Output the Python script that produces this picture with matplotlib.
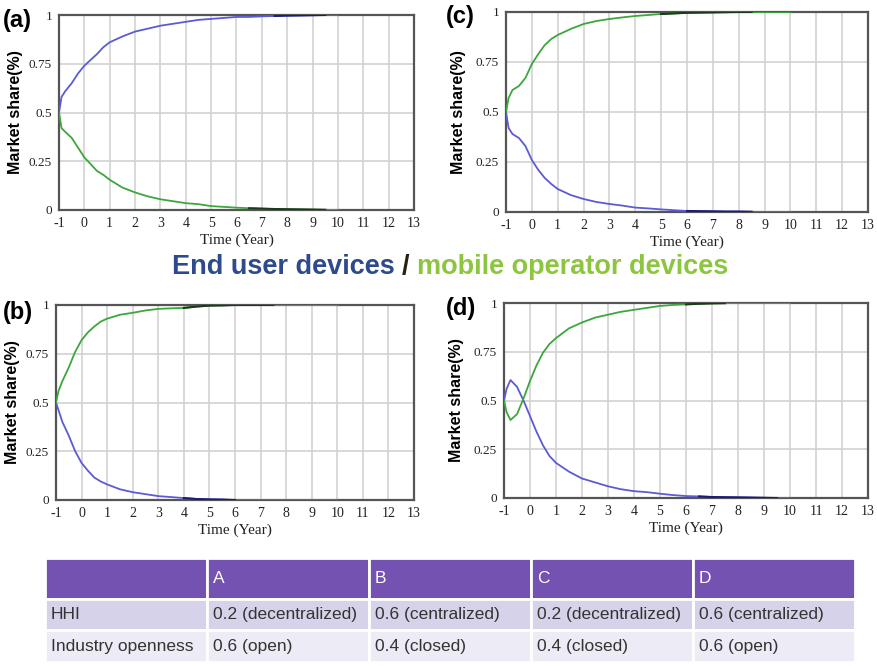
import numpy as np
import matplotlib.pyplot as plt
from matplotlib.patches import Rectangle

plt.rcParams['axes.unicode_minus'] = False

# Time axis shared by all four panels (years)
years = [-1, -0.9, -0.75, -0.5, -0.25, 0, 0.25, 0.5, 0.75, 1, 1.5, 2, 2.5, 3, 3.5,
         4, 4.5, 5, 5.5, 6, 6.5, 7, 7.5, 8, 8.5, 9, 9.5, 10]

# (a) HHI 0.2 / openness 0.6
a_end_user = [0.50, 0.58, 0.61, 0.65, 0.70, 0.74, 0.77, 0.80, 0.835, 0.86, 0.89, 0.915, 0.93, 0.945,
              0.955, 0.965, 0.975, 0.98, 0.985, 0.99, 0.99, 0.993, 0.995, 0.997, 0.998, 0.999, 1.0, 1.0]
a_operator = [0.50, 0.42, 0.40, 0.37, 0.32, 0.27, 0.235, 0.20, 0.18, 0.155, 0.115, 0.09, 0.07, 0.055,
              0.045, 0.035, 0.03, 0.02, 0.016, 0.012, 0.009, 0.007, 0.005, 0.004, 0.003, 0.002, 0.001, 0.0]

# (b) HHI 0.6 / openness 0.4
b_end_user = [0.50, 0.46, 0.40, 0.33, 0.25, 0.19, 0.15, 0.115, 0.095, 0.08, 0.055, 0.04, 0.03, 0.02,
              0.015, 0.01, 0.005, 0.003, 0.002, 0.0, 0.0, 0.0, 0.0, 0.0, 0.0, 0.0, 0.0, 0.0]
b_operator = [0.50, 0.56, 0.61, 0.68, 0.76, 0.82, 0.86, 0.89, 0.915, 0.93, 0.95, 0.96, 0.972, 0.98,
              0.983, 0.985, 0.992, 0.997, 0.998, 1.0, 1.0, 1.0, 1.0, 1.0, 1.0, 1.0, 1.0, 1.0]

# (c) HHI 0.2 / openness 0.4
c_end_user = [0.50, 0.42, 0.39, 0.37, 0.33, 0.26, 0.21, 0.17, 0.14, 0.115, 0.085, 0.065, 0.05, 0.04,
              0.032, 0.022, 0.018, 0.013, 0.009, 0.005, 0.004, 0.003, 0.002, 0.002, 0.001, 0.0, 0.0, 0.0]
c_operator = [0.50, 0.57, 0.61, 0.63, 0.67, 0.74, 0.79, 0.835, 0.865, 0.885, 0.915, 0.94, 0.955, 0.965,
              0.973, 0.98, 0.985, 0.99, 0.993, 0.996, 0.997, 0.998, 0.999, 1.0, 1.0, 1.0, 1.0, 1.0]

# (d) HHI 0.6 / openness 0.6
d_end_user = [0.50, 0.56, 0.605, 0.57, 0.50, 0.42, 0.34, 0.27, 0.215, 0.18, 0.135, 0.10, 0.08, 0.06,
              0.045, 0.035, 0.03, 0.022, 0.015, 0.01, 0.008, 0.005, 0.004, 0.003, 0.002, 0.001, 0.0, 0.0]
d_operator = [0.50, 0.44, 0.40, 0.43, 0.51, 0.60, 0.68, 0.745, 0.79, 0.82, 0.87, 0.90, 0.925, 0.94,
              0.955, 0.965, 0.975, 0.985, 0.99, 0.993, 0.996, 0.998, 0.999, 1.0, 1.0, 1.0, 1.0, 1.0]

# parts of each curve that render darker in the original (year ranges)
dark_spans = {
    'a': ((7.5, 9.5), (6.5, 9.5)),
    'b': ((4.0, 6.0), (4.0, 7.5)),
    'c': ((6.0, 8.5), (5.0, 8.5)),
    'd': ((6.5, 9.5), (6.0, 7.5)),
}

x_ticks = list(range(-1, 14))
y_ticks = [0, 0.25, 0.5, 0.75, 1]
y_tick_labels = ['0', '0.25', '0.5', '0.75', '1']

table_header = ['', 'A', 'B', 'C', 'D']
table_rows = [
    ['HHI', '0.2 (decentralized)', '0.6 (centralized)', '0.2 (decentralized)', '0.6 (centralized)'],
    ['Industry openness', '0.6 (open)', '0.4 (closed)', '0.4 (closed)', '0.6 (open)'],
]

W, H = 878, 666
BLUE = '#5b5bd6'
GREEN = '#3da63d'
DARK_BLUE = '#1c1c78'
DARK_GREEN = '#1b3a1b'


def fig_rect(left, top, right, bottom):
    return [left / W, 1 - bottom / H, (right - left) / W, (bottom - top) / H]


fig = plt.figure(figsize=(W / 100, H / 100), dpi=100)

panels = [
    ('a', (59, 15, 414, 210), a_end_user, a_operator, (3, 21), 16),
    ('c', (506, 12, 868, 212), c_end_user, c_operator, (446, 16), 459),
    ('b', (56, 305, 414, 500), b_end_user, b_operator, (3, 313), 13),
    ('d', (504, 303, 868, 498), d_end_user, d_operator, (446, 309), 457),
]

x = np.array(years)
for key, box, end_user, operator, lab_pos, ylab_x in panels:
    ax = fig.add_axes(fig_rect(*box))
    ax.plot(x, end_user, color=BLUE, lw=1.3, zorder=3)
    ax.plot(x, operator, color=GREEN, lw=1.3, zorder=3)
    (eu0, eu1), (op0, op1) = dark_spans[key]
    m = (x >= eu0) & (x <= eu1)
    ax.plot(x[m], np.array(end_user)[m], color=DARK_BLUE, lw=1.5, zorder=4)
    m = (x >= op0) & (x <= op1)
    ax.plot(x[m], np.array(operator)[m], color=DARK_GREEN, lw=1.5, zorder=4)

    ax.set_xlim(-1, 13)
    ax.set_ylim(0, 1)
    ax.set_xticks(x_ticks)
    ax.set_yticks(y_ticks)
    ax.set_yticklabels(y_tick_labels)
    ax.grid(True, color='#d2d2d2', lw=1.2)
    ax.set_axisbelow(True)
    ax.tick_params(axis='x', length=0, pad=5, labelsize=10, labelcolor='#222222')
    ax.tick_params(axis='y', length=0, pad=5, labelsize=9.5, labelcolor='#222222')
    for lbl in ax.get_xticklabels() + ax.get_yticklabels():
        lbl.set_family('Liberation Serif')
    for s in ax.spines.values():
        s.set_color('#555555')
        s.set_linewidth(1.6)

    left, top, right, bottom = box
    fig.text(lab_pos[0] / W, 1 - lab_pos[1] / H, f'({key})', fontsize=17, fontweight='bold',
             family='Liberation Sans', ha='left', va='center')
    fig.text(ylab_x / W, 1 - (top + bottom) / 2 / H, 'Market share(%)', rotation=90,
             fontsize=11.5, fontweight='bold', family='Liberation Sans', ha='center', va='center')
    fig.text((left + right) / 2 / W, 1 - (bottom + 30) / H, 'Time (Year)', fontsize=11,
             family='Liberation Serif', ha='center', va='center', color='#222222')

# legend line between the rows of panels
fig.text(172 / W, 1 - 267 / H, 'End user devices', fontsize=19.5, fontweight='bold',
         family='Liberation Sans', color='#2c4a8c', ha='left', va='center')
fig.text(405 / W, 1 - 267 / H, '/', fontsize=19.5, fontweight='bold',
         family='Liberation Sans', color='#2a2010', ha='center', va='center')
fig.text(417 / W, 1 - 267 / H, 'mobile operator devices', fontsize=19.5, fontweight='bold',
         family='Liberation Sans', color='#8cc63f', ha='left', va='center')

# parameter table
tax = fig.add_axes([0, 0, 1, 1])
tax.set_xlim(0, W)
tax.set_ylim(H, 0)
tax.axis('off')
col_edges = [45, 207, 369, 531, 693, 855]
row_edges = [558, 599, 630, 662]
row_colors = ['#7452b2', '#d6d2ea', '#edebf5']
all_rows = [table_header] + table_rows
for r in range(3):
    for c in range(5):
        x0, x1 = col_edges[c], col_edges[c + 1]
        y0, y1 = row_edges[r], row_edges[r + 1]
        tax.add_patch(Rectangle((x0, y0), x1 - x0, y1 - y0, facecolor=row_colors[r],
                                edgecolor='white', lw=2))
        txt = all_rows[r][c]
        if r == 0:
            tax.text(x0 + 6, (y0 + y1) / 2, txt, color='white', fontsize=12.5,
                     family='Liberation Sans', ha='left', va='center')
        else:
            tax.text(x0 + 6, (y0 + y1) / 2, txt, color='#333333', fontsize=12.5,
                     family='Liberation Sans', ha='left', va='center')

plt.savefig('out.png', dpi=100)
